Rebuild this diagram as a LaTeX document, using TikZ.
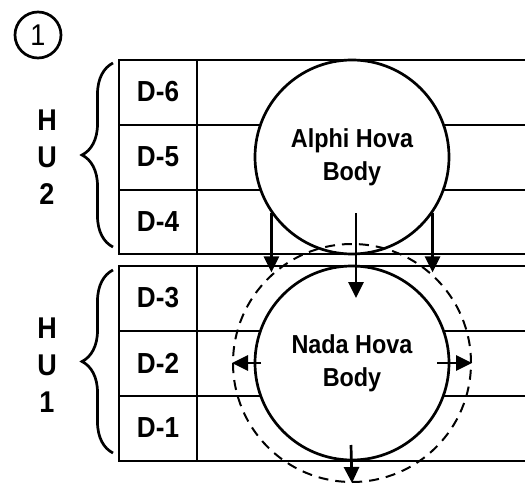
\documentclass[tikz,border=0pt]{standalone}
\usepackage{fontspec}
\setmainfont{Liberation Sans}[FakeStretch=0.9]
\usetikzlibrary{arrows.meta,decorations.pathreplacing}
\begin{document}
\begin{tikzpicture}[x=1pt,y=-1pt,line width=2.7pt,
  lbl/.style={font=\bfseries\fontsize{29}{29}\selectfont},
  hu/.style={align=center,font=\bfseries\fontsize{30}{37}\selectfont},
  body/.style={circle,draw,fill=white,minimum size=194pt,inner sep=0pt,align=center,font=\bfseries\fontsize{26}{33}\selectfont},
  arr/.style={-{Triangle[length=16pt,width=15pt]}},
  brc/.style={decorate,decoration={brace,amplitude=31pt}}]
\useasboundingbox (0,0) rectangle (525,484);
\node[circle,draw,minimum size=46pt,inner sep=0pt,font=\fontsize{30}{30}\selectfont] (num) at (38,35) {1};
\draw[] (525,60) -- (119,60) -- (119,254) -- (525,254);
\draw[] (119,125) -- (525,125);
\draw[] (119,190) -- (525,190);
\draw[] (197,60) -- (197,254);
\draw[] (525,266) -- (119,266) -- (119,461) -- (525,461);
\draw[] (119,331) -- (525,331);
\draw[] (119,396) -- (525,396);
\draw[] (197,266) -- (197,461);
\node[lbl] (d6) at (158,92) {D-6};
\node[lbl] (d5) at (158,157) {D-5};
\node[lbl] (d4) at (158,222) {D-4};
\node[lbl] (d3) at (158,298) {D-3};
\node[lbl] (d2) at (158,363) {D-2};
\node[lbl] (d1) at (158,428) {D-1};
\draw[brc] (113,247) -- (113,63);
\draw[brc] (113,453) -- (113,270);
\node[hu] (hu2) at (47,157) {H\\U\\2};
\node[hu] (hu1) at (47,365) {H\\U\\1};
\node[body] (alphi) at (352,157) {Alphi Hova\\Body};
\node[body] (nada) at (352,363) {Nada Hova\\Body};
\node[circle,draw,line width=2pt,dash pattern=on 10pt off 7pt,minimum size=238pt,inner sep=0pt] (halo) at (352,363) {};
\draw[arr] (alphi.215) -- (alphi.215 |- halo.131);
\draw[arr] (alphi.-35) -- (alphi.-35 |- halo.49);
\coordinate (top) at (356,213);
\coordinate (mid) at (356,298);
\draw[arr] (top) -- (mid);
\coordinate (lin) at (261,363);
\draw[arr] (lin) -- (halo.west);
\coordinate (rin) at (437,363);
\draw[arr] (rin) -- (halo.east);
\coordinate (bin) at (351,445);
\draw[arr] (bin) -- (halo.south);
\end{tikzpicture}
\end{document}
